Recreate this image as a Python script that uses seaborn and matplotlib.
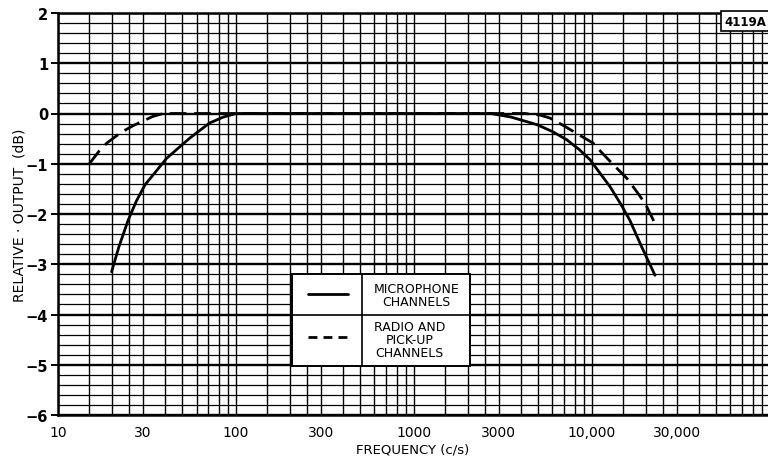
import numpy as np
import pandas as pd
import matplotlib
matplotlib.use("Agg")
import matplotlib.pyplot as plt
from matplotlib.ticker import FixedLocator, FixedFormatter
import seaborn as sns

# Frequency response of the amplifier channels (relative output in dB)
mic_freq = [20, 22, 24.8, 27.5, 30.8, 35, 40.8, 47, 55, 63, 71, 85, 100,
            2700, 3500, 4890, 6000, 7200, 8500, 9760, 11000, 12600, 14500,
            16300, 19000, 22600]
mic_db = [-3.15, -2.65, -2.12, -1.75, -1.42, -1.18, -0.89, -0.70, -0.49,
          -0.33, -0.19, -0.07, 0.0,
          0.0, -0.07, -0.22, -0.36, -0.52, -0.72, -0.92, -1.17, -1.45, -1.80,
          -2.12, -2.65, -3.22]

radio_freq = [15, 17, 18.8, 21, 23.3, 26.5, 30, 34, 39,
              4200, 5100, 5800, 7000, 8500, 10160, 11500, 13200, 15700,
              17800, 19900, 22600]
radio_db = [-1.0, -0.75, -0.59, -0.46, -0.35, -0.24, -0.15, -0.06, 0.0,
            0.0, -0.03, -0.09, -0.25, -0.43, -0.59, -0.80, -1.02, -1.29,
            -1.55, -1.79, -2.19]

x_tick_values = [10, 30, 100, 300, 1000, 3000, 10000, 30000]
x_tick_labels = ["10", "30", "100", "300", "1000", "3000", "10,000", "30,000"]
y_tick_values = [2, 1, 0, -1, -2, -3, -4, -5, -6]

legend_labels = ["MICROPHONE\nCHANNELS", "RADIO AND\nPICK-UP\nCHANNELS"]
drawing_number = "4119A"

sns.set_theme(style="white")
plt.rcParams["font.family"] = ["DejaVu Sans"]
plt.rcParams["text.color"] = "black"
plt.rcParams["axes.labelcolor"] = "black"
plt.rcParams["xtick.color"] = "black"
plt.rcParams["ytick.color"] = "black"

df = pd.concat([
    pd.DataFrame({"freq": mic_freq, "db": mic_db, "series": "mic"}),
    pd.DataFrame({"freq": radio_freq, "db": radio_db, "series": "radio"}),
])

fig = plt.figure(figsize=(7.68, 4.60), dpi=100)
ax = fig.add_axes([58 / 768, 44 / 460, 710 / 768, 402 / 460])

sns.lineplot(data=df[df.series == "mic"], x="freq", y="db", color="black",
             linewidth=2.0, ax=ax, legend=False, zorder=5)
sns.lineplot(data=df[df.series == "radio"], x="freq", y="db", color="black",
             linewidth=2.0, ax=ax, legend=False, zorder=5)
ax.lines[-1].set_dashes((6, 2.8))

ax.set_xscale("log")
ax.set_xlim(10, 97500)
ax.set_ylim(-6, 2)

# Log-paper grid: 1, 1.5, 2, 2.5, 3 ... 9 per decade
minor_x = []
for dec in [10, 100, 1000, 10000]:
    for m in [1, 1.5, 2, 2.5, 3, 4, 5, 6, 7, 8, 9]:
        minor_x.append(dec * m)
ax.xaxis.set_major_locator(FixedLocator(x_tick_values))
ax.xaxis.set_major_formatter(FixedFormatter(x_tick_labels))
ax.xaxis.set_minor_locator(FixedLocator(minor_x))
ax.xaxis.set_minor_formatter(FixedFormatter([]))

ax.yaxis.set_major_locator(FixedLocator(y_tick_values))
ax.yaxis.set_major_formatter(FixedFormatter(
    [("\u2212" + str(-v)) if v < 0 else str(v) for v in y_tick_values]))
ax.yaxis.set_minor_locator(FixedLocator(np.arange(-6, 2.01, 0.2)))

ax.grid(which="minor", axis="x", color="black", linewidth=1.0)
ax.grid(which="major", axis="x", color="black", linewidth=1.0)
ax.grid(which="minor", axis="y", color="black", linewidth=0.9)
ax.grid(which="major", axis="y", color="black", linewidth=1.7)
ax.set_axisbelow(True)

ax.tick_params(axis="x", which="both", length=0, pad=7, labelsize=10)
ax.tick_params(axis="y", which="major", length=5, width=1.4, pad=2,
               labelsize=10.5, direction="out", color="black", left=True)
ax.tick_params(axis="y", which="minor", length=0)
for lab in ax.get_yticklabels():
    lab.set_fontweight("bold")

for side in ["left", "bottom", "top"]:
    ax.spines[side].set_visible(True)
    ax.spines[side].set_color("black")
    ax.spines[side].set_linewidth(1.8)
ax.spines["right"].set_visible(False)

ax.set_xlabel("FREQUENCY (c/s)", fontsize=9.5)
ax.xaxis.set_label_coords(0.5, -0.068)
ax.xaxis.label.set_verticalalignment("top")
ax.set_ylabel("RELATIVE \u00b7 OUTPUT  (dB)", fontsize=10)
ax.yaxis.set_label_coords(-0.045, 0.5)

# Key box drawn on the graph paper
tr = ax.transAxes
x0, x1, xd = 0.329, 0.580, 0.428
y0, y1, yd = 0.123, 0.351, 0.2495
ax.add_patch(plt.Rectangle((x0, y0), x1 - x0, y1 - y0, transform=tr,
                           facecolor="white", edgecolor="black",
                           linewidth=1.4, zorder=6))
ax.plot([xd, xd], [y0, y1], transform=tr, color="black", lw=1.2, zorder=7)
ax.plot([x0, x1], [yd, yd], transform=tr, color="black", lw=1.2, zorder=7)
ax.plot([0.352, 0.408], [0.300, 0.300], transform=tr, color="black",
        lw=2.0, zorder=8)
ax.plot([0.352, 0.408], [0.193, 0.193], transform=tr, color="black",
        lw=2.0, dashes=(3.2, 2.2), zorder=8)
ax.text(0.505, 0.298, legend_labels[0], transform=tr, ha="center",
        va="center", fontsize=9, linespacing=1.0, zorder=8)
ax.text(0.495, 0.188, legend_labels[1], transform=tr, ha="center",
        va="center", fontsize=9, linespacing=1.0, zorder=8)

# Drawing reference number, top right
ax.text(745 / 768, 1 - 22 / 460, drawing_number, transform=fig.transFigure,
        ha="center", va="center", fontsize=8.5, fontweight="bold", zorder=9,
        bbox=dict(boxstyle="square,pad=0.28", facecolor="white",
                  edgecolor="black", linewidth=1.2))

fig.savefig("out.png", dpi=100, facecolor="white")
